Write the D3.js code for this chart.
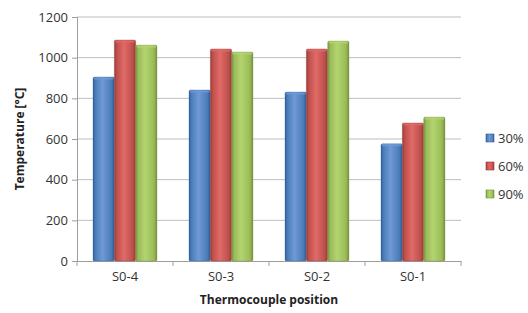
<!DOCTYPE html>
<html>
<head>
<meta charset="utf-8">
<script src="https://cdn.jsdelivr.net/npm/d3@7"></script>
<style>
  body { margin: 0; background: #fff; }
  text { font-family: "Open Sans", sans-serif; }
</style>
</head>
<body>
<div id="chart"></div>
<script>
const categories = ['S0-4', 'S0-3', 'S0-2', 'S0-1']
const series = ['30%', '60%', '90%']
const values30 = [905, 841, 831, 577]
const values60 = [1087, 1043, 1043, 679]
const values90 = [1062, 1028, 1082, 708]
const yTicks = [0, 200, 400, 600, 800, 1000, 1200]

const colors = {
  '30%': { base: '#4a7ebb', light: '#6f9ad6', dark: '#2f5f99' },
  '60%': { base: '#c0504d', light: '#e06a66', dark: '#963a38' },
  '90%': { base: '#9bbb59', light: '#b3d46f', dark: '#76923f' }
}

const data = categories.map((c, i) => ({
  cat: c,
  vals: [
    { s: '30%', v: values30[i] },
    { s: '60%', v: values60[i] },
    { s: '90%', v: values90[i] }
  ]
}))

const W = 528, H = 313
const MARGIN = { LEFT: 77, RIGHT: 67, TOP: 17, BOTTOM: 52 }
const WIDTH = W - MARGIN.LEFT - MARGIN.RIGHT
const HEIGHT = H - MARGIN.TOP - MARGIN.BOTTOM
const FONT = '"Open Sans", sans-serif'

const svg = d3.select('#chart').append('svg')
  .attr('width', W)
  .attr('height', H)

// gradients for the bevelled bars
const defs = svg.append('defs')
series.forEach((s, i) => {
  const g = defs.append('linearGradient')
    .attr('id', 'grad' + i)
    .attr('x1', '0').attr('x2', '1').attr('y1', '0').attr('y2', '0')
  g.append('stop').attr('offset', '0%').attr('stop-color', colors[s].dark)
  g.append('stop').attr('offset', '12%').attr('stop-color', colors[s].base)
  g.append('stop').attr('offset', '45%').attr('stop-color', colors[s].light)
  g.append('stop').attr('offset', '85%').attr('stop-color', colors[s].base)
  g.append('stop').attr('offset', '100%').attr('stop-color', colors[s].dark)
})

const chart = svg.append('g')
  .attr('transform', `translate(${MARGIN.LEFT}, ${MARGIN.TOP})`)

// Scales
const x = d3.scaleBand()
  .domain(categories)
  .range([0, WIDTH])
  .paddingInner(0)
const x1 = d3.scaleBand()
  .domain(series)
  .range([x.bandwidth() / 6, x.bandwidth() * 5 / 6])
const y = d3.scaleLinear()
  .domain([0, 1200])
  .range([HEIGHT, 0])

// gridlines
chart.append('g')
  .selectAll('line')
  .data(yTicks.filter(d => d > 0))
  .enter().append('line')
    .attr('x1', 0)
    .attr('x2', WIDTH)
    .attr('y1', d => y(d))
    .attr('y2', d => y(d))
    .attr('stroke', '#bdbdbd')
    .attr('stroke-width', 1)

// Y axis
const yAxisCall = d3.axisLeft(y)
  .tickValues(yTicks)
  .tickFormat(d3.format('d'))
  .tickSize(5)
  .tickPadding(4)
const yAxis = chart.append('g')
  .attr('class', 'y axis')
  .call(yAxisCall)
yAxis.select('.domain').attr('stroke', '#9e9e9e')
yAxis.selectAll('.tick line').attr('stroke', '#9e9e9e')
yAxis.selectAll('text')
  .attr('font-size', '13px')
  .attr('fill', '#333')
  .style('font-family', FONT)

// X axis
const xAxis = chart.append('g')
  .attr('class', 'x axis')
  .attr('transform', `translate(0, ${HEIGHT})`)
  .call(d3.axisBottom(x).tickSize(0).tickPadding(11))
xAxis.select('.domain').attr('stroke', '#9e9e9e')
xAxis.selectAll('text')
  .attr('font-size', '13px')
  .attr('fill', '#333')
  .style('font-family', FONT)
// tick marks at category boundaries
chart.append('g')
  .selectAll('line')
  .data(d3.range(categories.length + 1))
  .enter().append('line')
    .attr('x1', d => d * x.step())
    .attr('x2', d => d * x.step())
    .attr('y1', HEIGHT)
    .attr('y2', HEIGHT + 5)
    .attr('stroke', '#9e9e9e')

// Bars
const groups = chart.selectAll('.grp')
  .data(data)
  .enter().append('g')
    .attr('class', 'grp')
    .attr('transform', d => `translate(${x(d.cat)}, 0)`)

groups.selectAll('rect.bar')
  .data(d => d.vals)
  .enter().append('rect')
    .attr('class', 'bar')
    .attr('x', d => x1(d.s))
    .attr('width', x1.bandwidth())
    .attr('y', d => y(d.v))
    .attr('height', d => HEIGHT - y(d.v))
    .attr('rx', 1.5)
    .attr('fill', (d, i) => `url(#grad${i})`)
    .attr('stroke', d => colors[d.s].dark)
    .attr('stroke-opacity', 0.5)
    .attr('stroke-width', 0.6)

// bevel highlight on top
groups.selectAll('rect.cap')
  .data(d => d.vals)
  .enter().append('rect')
    .attr('class', 'cap')
    .attr('x', d => x1(d.s) + 1)
    .attr('width', x1.bandwidth() - 2)
    .attr('y', d => y(d.v) + 0.5)
    .attr('height', 2)
    .attr('fill', d => colors[d.s].light)
    .attr('opacity', 0.8)

// Axis titles
svg.append('text')
  .attr('transform', 'rotate(-90)')
  .attr('x', -(MARGIN.TOP + HEIGHT / 2))
  .attr('y', 24)
  .attr('text-anchor', 'middle')
  .attr('font-size', '12px')
  .attr('font-weight', 'bold')
  .attr('fill', '#222')
  .text('Temperature [°C]')

svg.append('text')
  .attr('x', MARGIN.LEFT + WIDTH / 2)
  .attr('y', 304)
  .attr('text-anchor', 'middle')
  .attr('font-size', '12px')
  .attr('font-weight', 'bold')
  .attr('fill', '#222')
  .text('Thermocouple position')

// Legend
const legend = svg.append('g')
  .attr('transform', 'translate(486, 134)')
series.forEach((s, i) => {
  const row = legend.append('g').attr('transform', `translate(0, ${i * 28})`)
  row.append('rect')
    .attr('width', 8).attr('height', 8)
    .attr('y', 0)
    .attr('fill', `url(#grad${i})`)
    .attr('stroke', colors[s].dark)
    .attr('stroke-width', 0.6)
  row.append('text')
    .attr('x', 12)
    .attr('y', 9)
    .attr('font-size', '13px')
    .attr('fill', '#333')
    .text(s)
})
</script>
</body>
</html>
